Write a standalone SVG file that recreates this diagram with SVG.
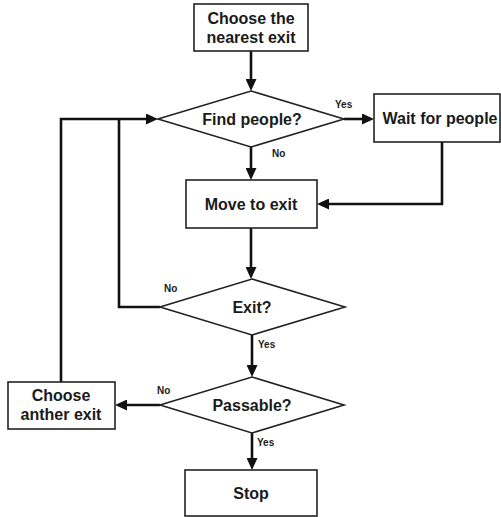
<svg xmlns="http://www.w3.org/2000/svg" width="501" height="517" viewBox="0 0 501 517">
<style>
.box{fill:#fff;stroke:#222;stroke-width:1.6}
.t{font-family:"Liberation Sans",Arial,sans-serif;font-weight:bold;font-size:16px;fill:#1a1a1a;text-anchor:middle}
.l{font-family:"Liberation Sans",Arial,sans-serif;font-weight:bold;font-size:10px;fill:#1a1a1a}
.c{fill:none;stroke:#111;stroke-width:2.6}
</style>
<defs>
<marker id="ah" viewBox="0 0 12 11" refX="6" refY="5.5" markerWidth="12" markerHeight="11" markerUnits="userSpaceOnUse" orient="auto">
<path d="M0,0 L12,5.5 L0,11 z" fill="#111"/>
</marker>
</defs>
<rect width="501" height="517" fill="#fff"/>
<g id="connectors">
<path class="c" d="M251,51 V85" marker-end="url(#ah)"/>
<path class="c" d="M344,119 H368" marker-end="url(#ah)"/>
<path class="c" d="M251,147 V174" marker-end="url(#ah)"/>
<path class="c" d="M442,142 V204 H323" marker-end="url(#ah)"/>
<path class="c" d="M251,228 V273" marker-end="url(#ah)"/>
<path class="c" d="M160,307 H119 V119"/>
<path class="c" d="M61,382 V119 H152" marker-end="url(#ah)"/>
<path class="c" d="M252,335 V371" marker-end="url(#ah)"/>
<path class="c" d="M160,405 H121" marker-end="url(#ah)"/>
<path class="c" d="M252,433 V464" marker-end="url(#ah)"/>
<text class="l" x="335" y="108">Yes</text>
<text class="l" x="272" y="157">No</text>
<text class="l" x="164" y="292">No</text>
<text class="l" x="258" y="348">Yes</text>
<text class="l" x="157" y="394">No</text>
<text class="l" x="257" y="446">Yes</text>
</g>
<g id="start">
<rect class="box" x="194" y="4" width="114" height="47"/>
<text class="t" x="251" y="24">Choose the</text>
<text class="t" x="251" y="43">nearest exit</text>
</g>
<g id="find">
<polygon class="box" points="251,91 344,119 251,147 158,119"/>
<text class="t" x="252" y="125">Find people?</text>
</g>
<g id="wait">
<rect class="box" x="374" y="94" width="126" height="48"/>
<text class="t" x="440" y="124">Wait for people</text>
</g>
<g id="move">
<rect class="box" x="186" y="180" width="131" height="48"/>
<text class="t" x="251" y="210">Move to exit</text>
</g>
<g id="exit">
<polygon class="box" points="252,279 345,307 252,335 160,307"/>
<text class="t" x="252" y="313">Exit?</text>
</g>
<g id="passable">
<polygon class="box" points="252,377 344,405 252,433 160,405"/>
<text class="t" x="252" y="411">Passable?</text>
</g>
<g id="another">
<rect class="box" x="8" y="382" width="107" height="47"/>
<text class="t" x="61" y="401">Choose</text>
<text class="t" x="61" y="420">anther exit</text>
</g>
<g id="stop">
<rect class="box" x="185" y="470" width="132" height="46"/>
<text class="t" x="251" y="499">Stop</text>
</g>
</svg>
